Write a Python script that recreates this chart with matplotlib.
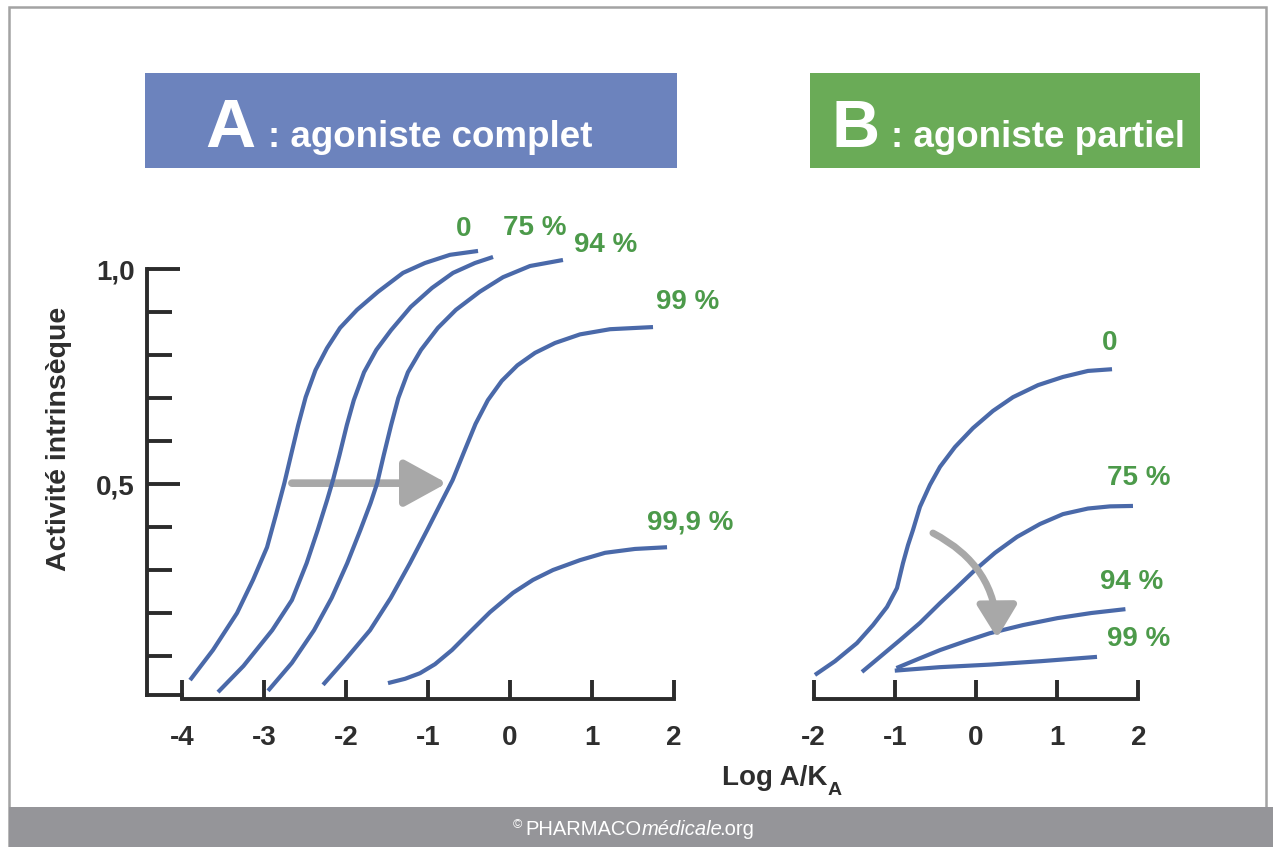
import matplotlib
matplotlib.use("Agg")
import matplotlib.pyplot as plt
from matplotlib.patches import Rectangle

# --- CONFIG ---
W, H, DPI = 1273, 847, 100
plt.rcParams['font.family'] = ['Liberation Sans', 'DejaVu Sans']
plt.rcParams['font.weight'] = 'bold'

BLUE = '#4a69a9'
GREEN = '#4c9a4a'
AXIS = '#2b2b2b'
ARROW = '#a8a8a8'
TXT = '#2e2e2e'

# --- DONNÉES ---
# Panneau A : agoniste complet, fraction de récepteurs bloqués
A_labels = ['0', '75 %', '94 %', '99 %', '99,9 %']
A0_x = [-3.902, -3.622, -3.329, -3.134, -2.963, -2.855, -2.752, -2.671, -2.583, -2.492,
        -2.372, -2.232, -2.073, -1.866, -1.610, -1.305, -1.037, -0.732, -0.390]
A0_y = [0.044, 0.114, 0.200, 0.277, 0.353, 0.428, 0.502, 0.567, 0.637, 0.702,
        0.765, 0.816, 0.863, 0.905, 0.947, 0.991, 1.014, 1.033, 1.042]
A75_x = [-3.561, -3.250, -2.900, -2.660, -2.480, -2.345, -2.230, -2.159, -2.080, -1.990,
         -1.905, -1.780, -1.630, -1.450, -1.210, -0.951, -0.695, -0.427, -0.207]
A75_y = [0.016, 0.077, 0.160, 0.230, 0.316, 0.393, 0.463, 0.509, 0.567, 0.637,
         0.695, 0.760, 0.812, 0.858, 0.912, 0.956, 0.991, 1.014, 1.028]
A94_x = [-2.951, -2.660, -2.390, -2.175, -1.985, -1.825, -1.700, -1.620, -1.540, -1.450,
         -1.362, -1.245, -1.085, -0.880, -0.660, -0.370, -0.085, 0.244, 0.646]
A94_y = [0.019, 0.084, 0.160, 0.235, 0.316, 0.393, 0.456, 0.502, 0.567, 0.637,
         0.700, 0.760, 0.812, 0.863, 0.905, 0.947, 0.981, 1.007, 1.021]
A99_x = [-2.280, -2.012, -1.707, -1.455, -1.220, -1.010, -0.845, -0.700, -0.560, -0.420,
         -0.270, -0.100, 0.090, 0.305, 0.549, 0.854, 1.220, 1.744]
A99_y = [0.033, 0.091, 0.160, 0.235, 0.316, 0.393, 0.455, 0.509, 0.575, 0.640,
         0.695, 0.740, 0.776, 0.805, 0.828, 0.848, 0.860, 0.865]
A999_x = [-1.488, -1.280, -1.098, -0.915, -0.707, -0.488, -0.244, 0.037, 0.280, 0.524,
          0.854, 1.159, 1.524, 1.915]
A999_y = [0.037, 0.047, 0.060, 0.081, 0.114, 0.156, 0.202, 0.247, 0.277, 0.300,
          0.323, 0.340, 0.349, 0.353]

# Panneau B : agoniste partiel
B_labels = ['0', '75 %', '94 %', '99 %']
B0_x = [-1.983, -1.736, -1.466, -1.268, -1.096, -0.973, -0.899, -0.837, -0.776, -0.690,
        -0.567, -0.443, -0.259, -0.037, 0.209, 0.456, 0.764, 1.071, 1.379, 1.675]
B0_y = [0.056, 0.088, 0.130, 0.172, 0.214, 0.258, 0.316, 0.358, 0.393, 0.447,
        0.498, 0.540, 0.586, 0.630, 0.670, 0.702, 0.730, 0.749, 0.763, 0.767]
B75_x = [-1.404, -1.182, -0.936, -0.690, -0.443, -0.234, -0.012, 0.234, 0.505, 0.788,
         1.071, 1.379, 1.650, 1.933]
B75_y = [0.063, 0.098, 0.137, 0.177, 0.223, 0.260, 0.300, 0.340, 0.377, 0.407,
         0.430, 0.443, 0.448, 0.449]
B94_x = [-0.98, -0.70, -0.44, -0.12, 0.17, 0.58, 1.00, 1.42, 1.84]
B94_y = [0.072, 0.094, 0.114, 0.135, 0.153, 0.172, 0.188, 0.200, 0.209]
B99_x = [-1.00, -0.45, 0.17, 0.80, 1.49]
B99_y = [0.066, 0.074, 0.080, 0.088, 0.098]

A_xticks = [-4, -3, -2, -1, 0, 1, 2]
A_xticklabels = ['-4', '-3', '-2', '-1', '0', '1', '2']
B_xticks = [-2, -1, 0, 1, 2]
B_xticklabels = ['-2', '-1', '0', '1', '2']
y_major = [0.5, 1.0]
y_major_labels = ['0,5', '1,0']
y_minor = [0.1, 0.2, 0.3, 0.4, 0.6, 0.7, 0.8, 0.9]

# positions des étiquettes vertes (coordonnées données)
A_label_pos = [(-0.57, 1.093), (0.30, 1.095), (1.16, 1.056), (2.17, 0.923), (2.20, 0.41)]
B_label_pos = [(1.65, 0.828), (2.00, 0.514), (1.92, 0.272), (2.00, 0.14)]


def axes_px(fig, left, right, top, bottom):
    return fig.add_axes([left / W, 1 - bottom / H, (right - left) / W, (bottom - top) / H])


def fig_rect(fig, x0, y0, x1, y1, **kw):
    fig.add_artist(Rectangle((x0 / W, 1 - y1 / H), (x1 - x0) / W, (y1 - y0) / H,
                             transform=fig.transFigure, zorder=-1, **kw))


fig = plt.figure(figsize=(W / DPI, H / DPI), dpi=DPI)
fig.patch.set_facecolor('white')

# cadre + bandeau bas
fig_rect(fig, 9, 7, 1266, 846, fill=False, edgecolor='#a3a3a3', lw=1.8)
fig_rect(fig, 9, 807, W, H, color='#959599', lw=0)

# bandeaux titres
fig_rect(fig, 145, 73, 677, 168, color='#6c83bd', lw=0)
fig_rect(fig, 810, 73, 1200, 168, color='#6aab57', lw=0)
fig.text(205 / W, 1 - 147 / H, 'A', fontsize=50, color='white', va='baseline')
fig.text(268 / W, 1 - 147 / H, ': agoniste complet', fontsize=26.5, color='white', va='baseline')
fig.text(831 / W, 1 - 147 / H, 'B', fontsize=48, color='white', va='baseline')
fig.text(891 / W, 1 - 147 / H, ': agoniste partiel', fontsize=26.5, color='white', va='baseline')

# --- Panneau A ---
ax = axes_px(fig, 147, 700, 200, 720)
ax.set_xlim(-4.427, 2.317)
ax.set_ylim(-0.0488, 1.1605)
for xs, ys in [(A0_x, A0_y), (A75_x, A75_y), (A94_x, A94_y), (A99_x, A99_y), (A999_x, A999_y)]:
    ax.plot(xs, ys, color=BLUE, lw=3, solid_capstyle='butt', solid_joinstyle='round',
            zorder=3, clip_on=False)
for lab, (lx, ly) in zip(A_labels, A_label_pos):
    ax.text(lx, ly, lab, color=GREEN, fontsize=20, ha='center', va='center', clip_on=False)
ax.annotate('', xy=(-0.77, 0.502), xytext=(-2.66, 0.502),
            arrowprops=dict(arrowstyle='-|>,head_length=1.0,head_width=0.55', mutation_scale=26,
                            lw=5.5, color=ARROW, shrinkA=0, shrinkB=0), zorder=2)

# --- Panneau B ---
bx = axes_px(fig, 800, 1180, 200, 720)
bx.set_xlim(-2.167, 2.512)
bx.set_ylim(-0.0488, 1.1605)
for xs, ys in [(B0_x, B0_y), (B75_x, B75_y), (B94_x, B94_y), (B99_x, B99_y)]:
    bx.plot(xs, ys, color=BLUE, lw=3, solid_capstyle='butt', solid_joinstyle='round',
            zorder=3, clip_on=False)
for lab, (lx, ly) in zip(B_labels, B_label_pos):
    bx.text(lx, ly, lab, color=GREEN, fontsize=20, ha='center', va='center', clip_on=False)
bx.annotate('', xy=(0.26, 0.142), xytext=(-0.53, 0.386),
            arrowprops=dict(arrowstyle='-|>,head_length=0.9,head_width=0.55', mutation_scale=22,
                            lw=5, color=ARROW, shrinkA=0, shrinkB=0,
                            connectionstyle='arc3,rad=-0.3'), zorder=4)

# axes
for a in (ax, bx):
    a.set_facecolor('none')
    for s in ('top', 'right'):
        a.spines[s].set_visible(False)
    a.spines['bottom'].set_position(('data', 0))
    a.spines['bottom'].set_linewidth(2.8)
    a.spines['bottom'].set_color(AXIS)
    a.tick_params(axis='x', direction='in', length=14, width=2.8, color=AXIS,
                  pad=19, labelsize=20, labelcolor=TXT)

ax.spines['bottom'].set_bounds(-4, 2)
ax.set_xticks(A_xticks, labels=A_xticklabels)
ax.spines['left'].set_linewidth(2.8)
ax.spines['left'].set_color(AXIS)
ax.spines['left'].set_bounds(0.01, 1.0)
ax.set_yticks(y_major, labels=y_major_labels)
ax.set_yticks(y_minor, minor=True)
ax.tick_params(axis='y', which='major', direction='in', length=24, width=2.8, color=AXIS,
               pad=9, labelsize=20, labelcolor=TXT)
ax.tick_params(axis='y', which='minor', direction='in', length=18, width=2.8, color=AXIS)
ax.plot([-4.427, -4], [0.01, 0.01], color=AXIS, lw=2.8, clip_on=False, solid_capstyle='projecting')
ax.set_ylabel('Activité intrinsèque', fontsize=20.5, fontweight='bold', color=TXT)
ax.yaxis.set_label_coords(72 / W, 1 - 439 / H, transform=fig.transFigure)

bx.spines['left'].set_visible(False)
bx.spines['bottom'].set_bounds(-2, 2)
bx.set_xticks(B_xticks, labels=B_xticklabels)
bx.set_yticks([])

# titre axe x
t = fig.text(722 / W, 1 - 785 / H, 'Log A/K', fontsize=20, color=TXT, va='baseline')
ax.annotate('A', xy=(1, 0), xycoords=t, xytext=(0, -3), textcoords='offset points',
            fontsize=14, color=TXT, va='baseline', annotation_clip=False)

# copyright
c0 = fig.text(513 / W, 1 - 828 / H, '©', fontsize=9, color='white', weight='normal', va='baseline')
c1 = ax.annotate('PHARMACO', xy=(1, 0), xycoords=c0, xytext=(2, -5.5), textcoords='offset points',
                 fontsize=14.5, color='white', weight='normal', va='bottom', annotation_clip=False)
c2 = ax.annotate('médicale', xy=(1, 0), xycoords=c1, fontsize=14.5, color='white',
                 weight='normal', style='italic', va='bottom', annotation_clip=False)
ax.annotate('.org', xy=(1, 0), xycoords=c2, xytext=(-2, 0), textcoords='offset points',
            fontsize=14.5, color='white', weight='normal', va='bottom', annotation_clip=False)

fig.savefig('out.png', dpi=DPI, facecolor='white')
